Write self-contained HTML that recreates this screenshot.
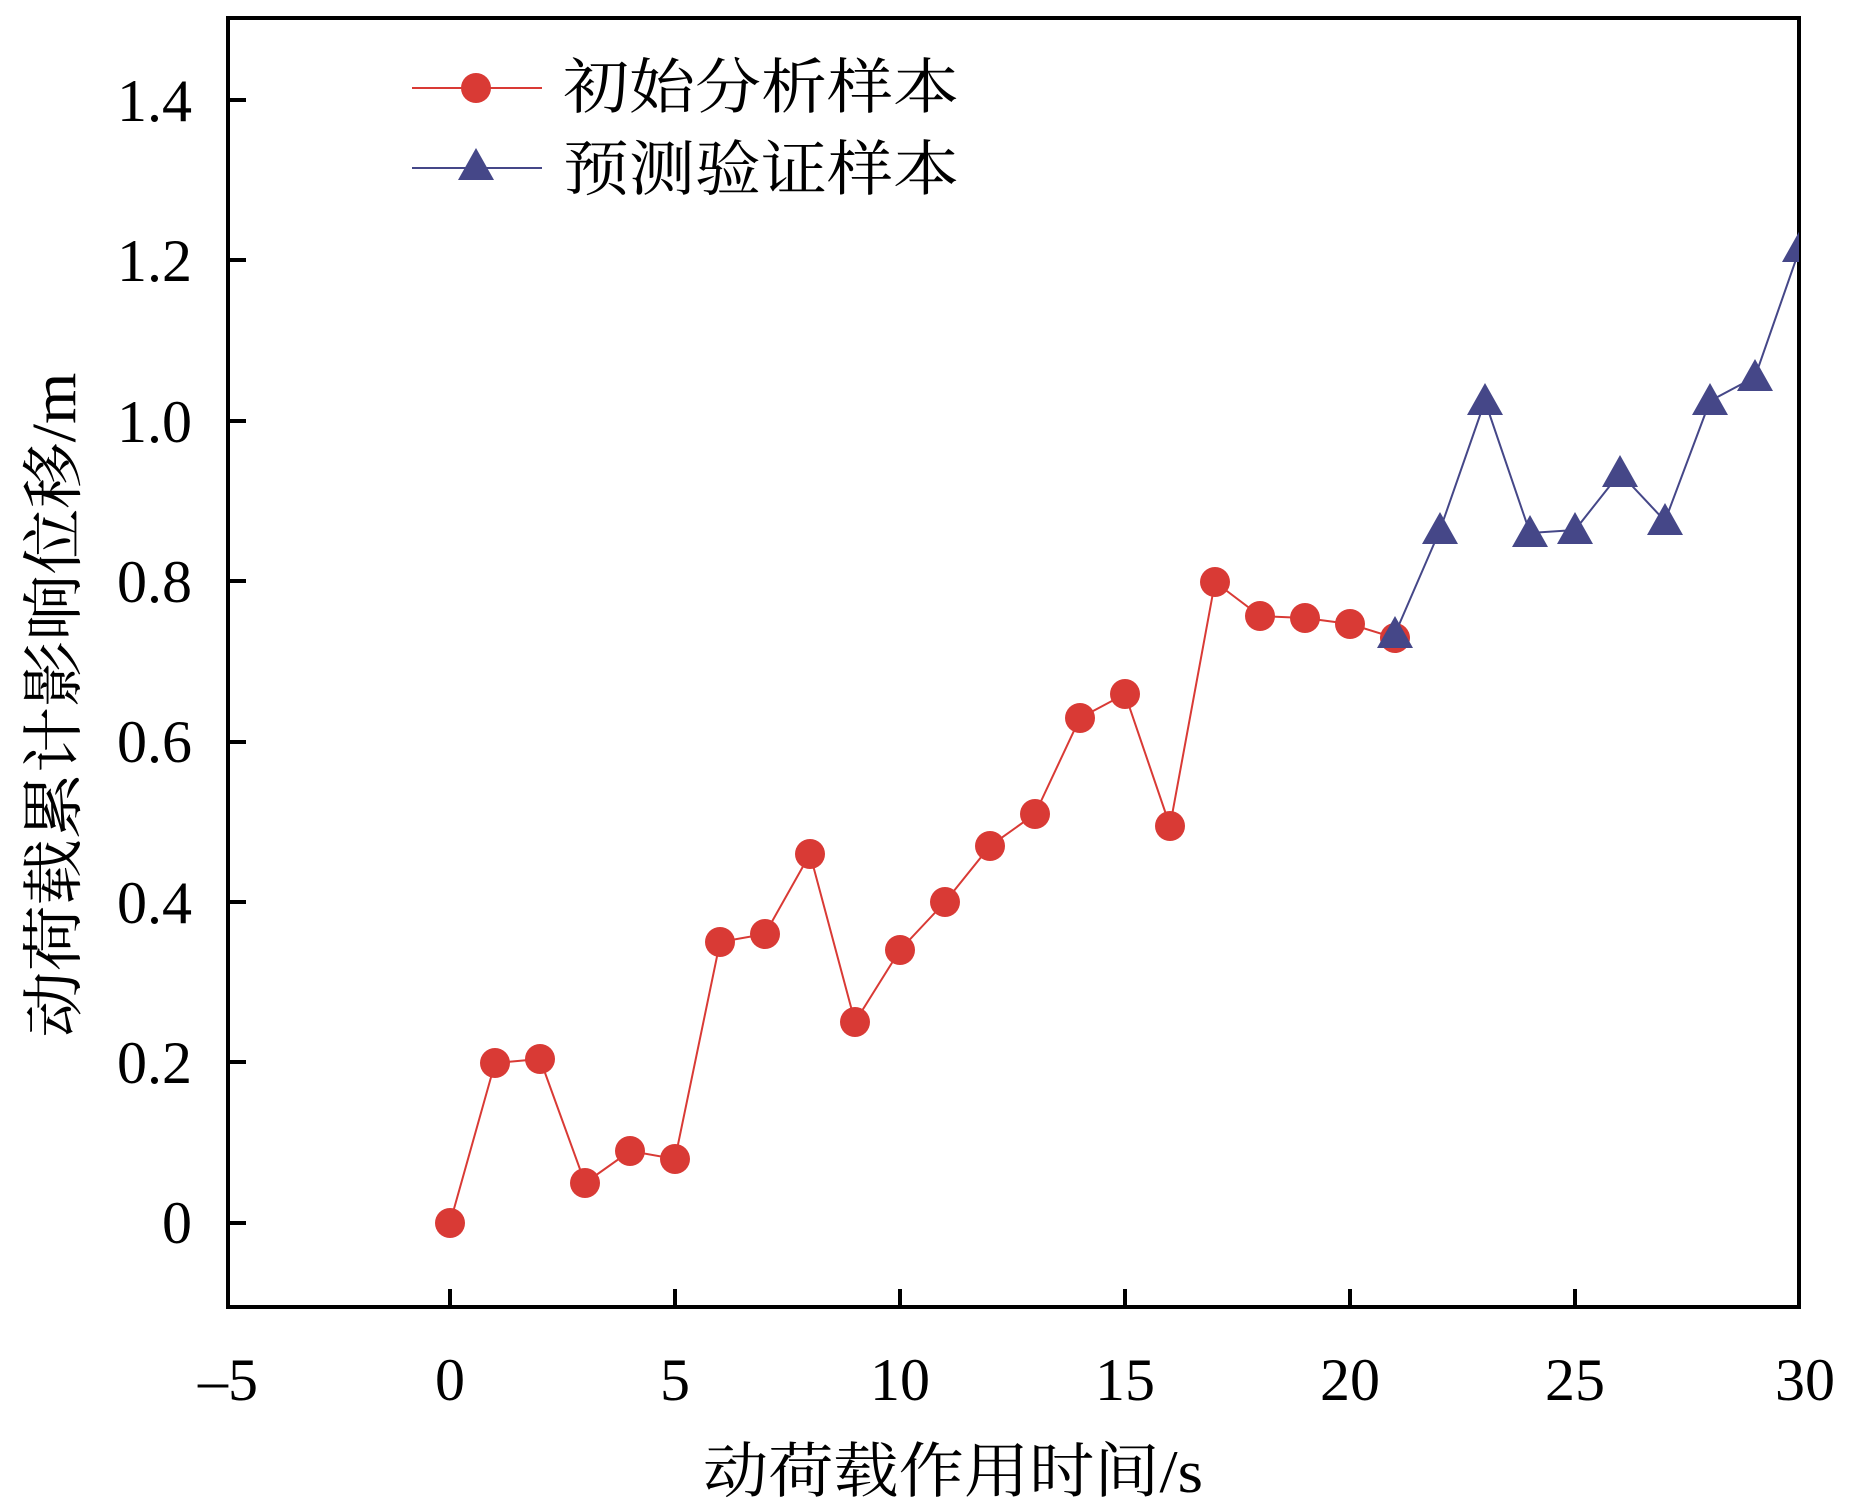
<!DOCTYPE html>
<html><head><meta charset="utf-8"><style>body{margin:0;background:#fff}svg{display:block}</style></head><body>
<svg width="1851" height="1511" viewBox="0 0 1851 1511" xmlns="http://www.w3.org/2000/svg">
<defs><clipPath id="c"><rect x="228" y="18" width="1571" height="1289"/></clipPath></defs>
<g font-family="Liberation Serif, serif" font-size="60" fill="#000">
<g text-anchor="end">
<text x="192" y="1243">0</text>
<text x="192" y="1083">0.2</text>
<text x="192" y="923">0.4</text>
<text x="192" y="762">0.6</text>
<text x="192" y="602">0.8</text>
<text x="192" y="442">1.0</text>
<text x="192" y="281">1.2</text>
<text x="192" y="121">1.4</text>
</g>
<g text-anchor="middle">
<text x="228" y="1400">–5</text>
<text x="450" y="1400">0</text>
<text x="675" y="1400">5</text>
<text x="900" y="1400">10</text>
<text x="1125" y="1400">15</text>
<text x="1350" y="1400">20</text>
<text x="1575" y="1400">25</text>
<text x="1805" y="1400">30</text>
</g>
</g>
<text x="953" y="1492" font-family="Liberation Serif, 'Noto Serif CJK SC', serif" font-size="60" text-anchor="middle" textLength="500" lengthAdjust="spacingAndGlyphs">动荷载作用时间/s</text>
<text transform="translate(75,705) rotate(-90)" font-family="Liberation Serif, 'Noto Serif CJK SC', serif" font-size="62" text-anchor="middle" textLength="665" lengthAdjust="spacingAndGlyphs">动荷载累计影响位移/m</text>
<g stroke="#000" stroke-width="4">
<rect x="228" y="18" width="1571" height="1289" fill="none"/>
<path d="M228 1223h18M228 1062h18M228 902h18M228 742h18M228 581h18M228 421h18M228 260h18M228 100h18"/>
<path d="M450 1307v-18M675 1307v-18M900 1307v-18M1125 1307v-18M1350 1307v-18M1575 1307v-18"/>
</g>
<g clip-path="url(#c)">
<polyline fill="none" stroke="#d93a35" stroke-width="2" points="450,1223 495,1063 540,1059 585,1183 630,1151 675,1159 720,942 765,934 810,854 855,1022 900,950 945,902 990,846 1035,814 1080,718 1125,694 1170,826 1215,582 1260,616 1305,618 1350,624 1395,638"/>
<g fill="#d93a35">
<circle cx="450" cy="1223" r="15"/><circle cx="495" cy="1063" r="15"/><circle cx="540" cy="1059" r="15"/><circle cx="585" cy="1183" r="15"/><circle cx="630" cy="1151" r="15"/><circle cx="675" cy="1159" r="15"/><circle cx="720" cy="942" r="15"/><circle cx="765" cy="934" r="15"/><circle cx="810" cy="854" r="15"/><circle cx="855" cy="1022" r="15"/><circle cx="900" cy="950" r="15"/><circle cx="945" cy="902" r="15"/><circle cx="990" cy="846" r="15"/><circle cx="1035" cy="814" r="15"/><circle cx="1080" cy="718" r="15"/><circle cx="1125" cy="694" r="15"/><circle cx="1170" cy="826" r="15"/><circle cx="1215" cy="582" r="15"/><circle cx="1260" cy="616" r="15"/><circle cx="1305" cy="618" r="15"/><circle cx="1350" cy="624" r="15"/><circle cx="1395" cy="638" r="15"/>
</g>
<polyline fill="none" stroke="#454788" stroke-width="2" points="1395,634 1440,530 1485,401 1530,533 1575,530 1620,473 1665,521 1710,401 1755,377 1800,248"/>
<g fill="#454788">
<path d="M0,-18 L18,14 L-18,14Z" transform="translate(1395,634)"/>
<path d="M0,-18 L18,14 L-18,14Z" transform="translate(1440,530)"/>
<path d="M0,-18 L18,14 L-18,14Z" transform="translate(1485,401)"/>
<path d="M0,-18 L18,14 L-18,14Z" transform="translate(1530,533)"/>
<path d="M0,-18 L18,14 L-18,14Z" transform="translate(1575,530)"/>
<path d="M0,-18 L18,14 L-18,14Z" transform="translate(1620,473)"/>
<path d="M0,-18 L18,14 L-18,14Z" transform="translate(1665,521)"/>
<path d="M0,-18 L18,14 L-18,14Z" transform="translate(1710,401)"/>
<path d="M0,-18 L18,14 L-18,14Z" transform="translate(1755,377)"/>
<path d="M0,-18 L18,14 L-18,14Z" transform="translate(1800,248)"/>
</g>
</g>
<line x1="412" y1="88" x2="542" y2="88" stroke="#d93a35" stroke-width="2"/>
<circle cx="476" cy="88" r="15" fill="#d93a35"/>
<line x1="412" y1="168" x2="542" y2="168" stroke="#454788" stroke-width="2"/>
<path d="M0,-18 L18,14 L-18,14Z" transform="translate(476,166)" fill="#454788"/>
<g font-family="Liberation Serif, 'Noto Serif CJK SC', serif" font-size="60">
<text x="563" y="108" textLength="396" lengthAdjust="spacingAndGlyphs">初始分析样本</text>
<text x="563" y="190" textLength="396" lengthAdjust="spacingAndGlyphs">预测验证样本</text>
</g>
</svg>
</body></html>
